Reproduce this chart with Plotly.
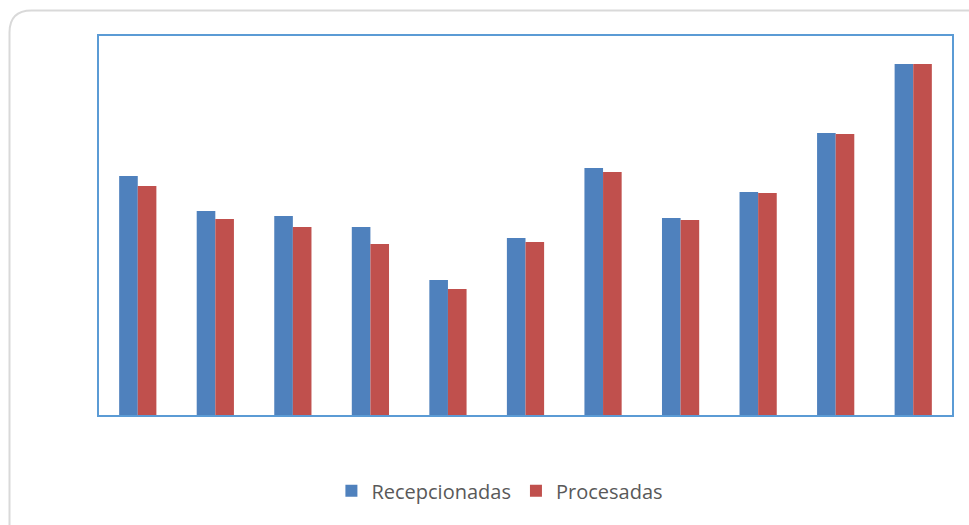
import plotly.graph_objects as go

categories = [str(i) for i in range(1, 12)]
recepcionadas = [239, 204, 199, 188, 135, 177, 247, 197, 223, 282, 351]
procesadas = [229, 196, 188, 171, 126, 173, 243, 195, 222, 281, 351]

W, H = 969, 525
L, R, T, B = 99, 17, 36, 110
pw, ph = W - L - R, H - T - B

def px(x):
    return (x - L) / pw

def py(y):
    return (H - B - y) / ph

fig = go.Figure()
fig.add_trace(go.Bar(x=categories, y=recepcionadas, name="Recepcionadas",
                     marker=dict(color="#4f81bd", line=dict(width=0))))
fig.add_trace(go.Bar(x=categories, y=procesadas, name="Procesadas",
                     marker=dict(color="#c0504d", line=dict(width=0))))

# outer rounded frame
x0, y0, x1, y1, r = 9.5, 10.5, 1000, 560, 22
path = (f"M {px(x0)},{py(y0 + r)} Q {px(x0)},{py(y0)} {px(x0 + r)},{py(y0)} "
        f"L {px(x1)},{py(y0)} L {px(x1)},{py(y1)} L {px(x0)},{py(y1)} Z")
fig.add_shape(type="path", path=path, xref="paper", yref="paper",
              line=dict(color="#d9d9d9", width=2), layer="below")

fig.update_layout(
    width=W, height=H,
    margin=dict(l=L, r=R, t=T, b=B),
    paper_bgcolor="white", plot_bgcolor="white",
    barmode="group", bargap=0.52, bargroupgap=0,
    showlegend=True,
    legend=dict(orientation="h", x=0.47, xanchor="center", y=-0.2, yanchor="middle",
                font=dict(family="Open Sans, sans-serif", size=20, color="#595959"),
                itemwidth=30, traceorder="normal"),
    xaxis=dict(showticklabels=False, ticks="", showgrid=False, showline=True,
               mirror=True, linecolor="#5b9bd5", linewidth=2, zeroline=False),
    yaxis=dict(range=[0, 379], showticklabels=False, ticks="", showgrid=False,
               showline=True, mirror=True, linecolor="#5b9bd5", linewidth=2,
               zeroline=False),
)

fig.write_html("out.html")
